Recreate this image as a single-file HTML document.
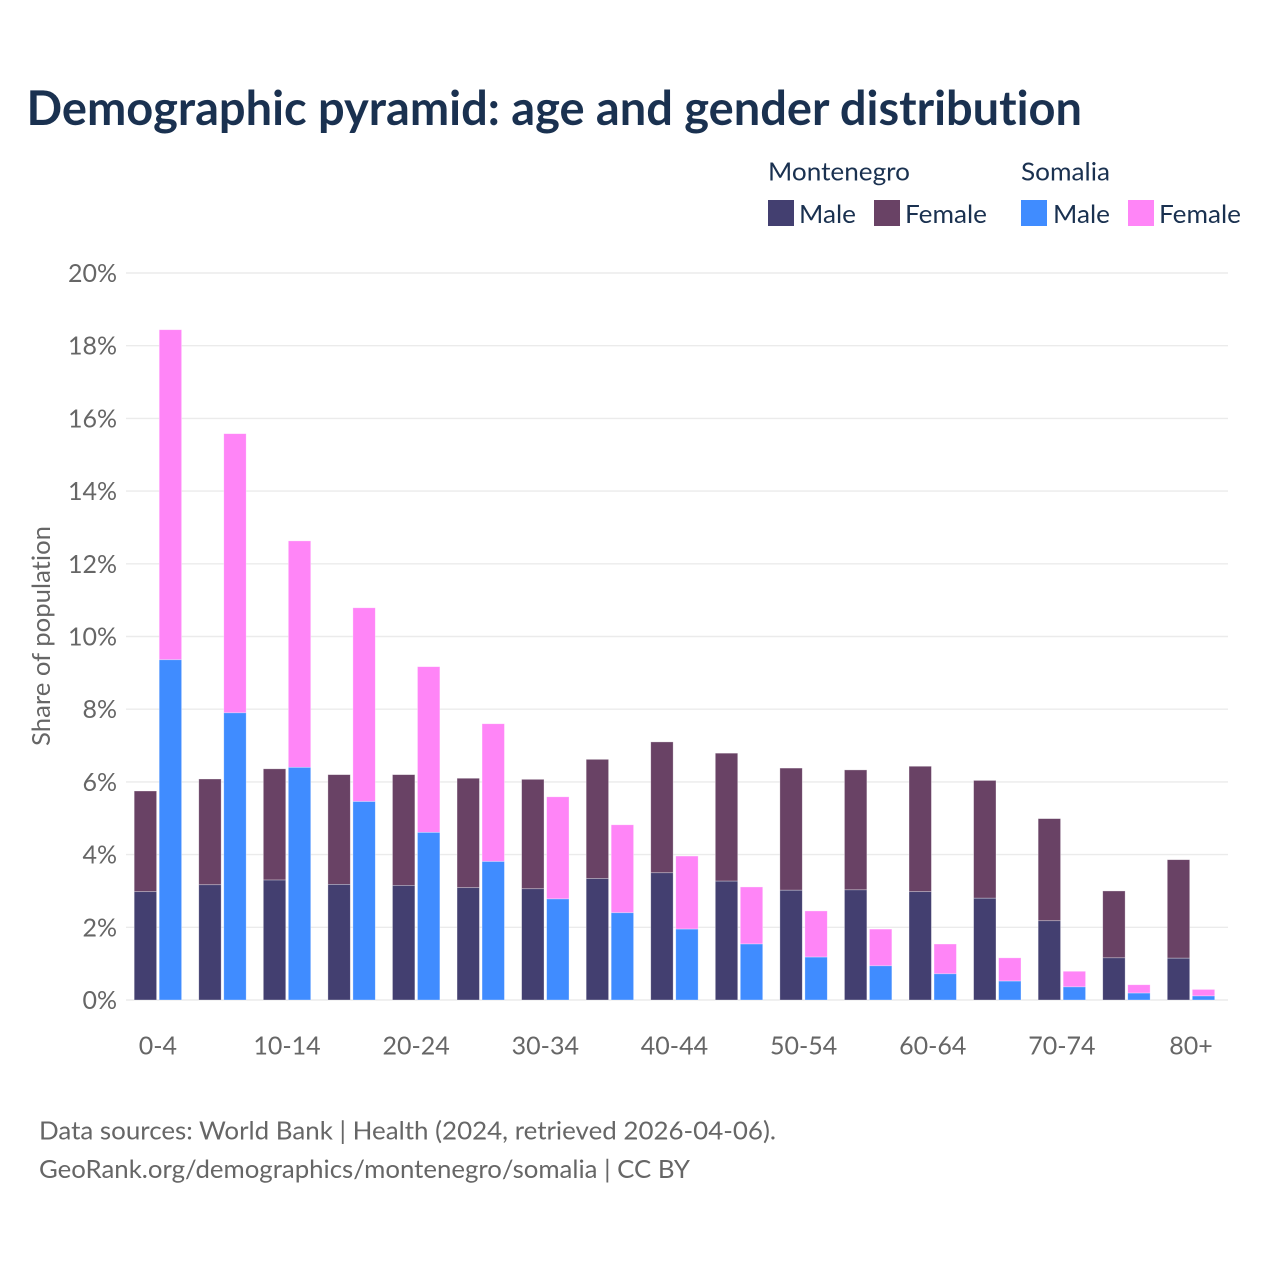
<!DOCTYPE html>
<html lang="en">
<head>
<meta charset="utf-8">
<title>Demographic pyramid: age and gender distribution</title>
<style>
html,body{margin:0;padding:0;background:#fff;width:1280px;height:1280px;overflow:hidden}
svg{display:block}
text{font-family:"Lato","Carlito","Liberation Sans",sans-serif;font-variant-ligatures:none}
</style>
</head>
<body>
<svg id="chart" xmlns="http://www.w3.org/2000/svg" width="1280" height="1280" viewBox="0 0 1280 1280">
  <rect x="0" y="0" width="1280" height="1280" fill="#fff"/>
  <text x="26.5" y="125" font-size="47.5" font-weight="700" fill="#1a3150" textLength="1055.5" lengthAdjust="spacingAndGlyphs">Demographic pyramid: age and gender distribution</text>

  <g font-size="25.5" fill="#1a3150">
    <text x="768" y="180.5" textLength="142" lengthAdjust="spacingAndGlyphs">Montenegro</text>
    <text x="1021" y="180.5" textLength="89" lengthAdjust="spacingAndGlyphs">Somalia</text>
    <rect x="768" y="200" width="26" height="26" fill="#433f70"/>
    <text x="799" y="223" textLength="57" lengthAdjust="spacingAndGlyphs">Male</text>
    <rect x="874" y="200" width="26" height="26" fill="#694265"/>
    <text x="905" y="223" textLength="82" lengthAdjust="spacingAndGlyphs">Female</text>
    <rect x="1021" y="200" width="26" height="26" fill="#408cff"/>
    <text x="1053" y="223" textLength="57" lengthAdjust="spacingAndGlyphs">Male</text>
    <rect x="1128" y="200" width="26" height="26" fill="#ff85f7"/>
    <text x="1159" y="223" textLength="82" lengthAdjust="spacingAndGlyphs">Female</text>
  </g>

  <g id="grid"></g>
  <g id="y-ticks"></g>
  <g id="bars"></g>
  <g id="x-ticks"></g>

  <text transform="translate(50 746) rotate(-90)" x="0" y="0" font-size="25" fill="#666" textLength="220" lengthAdjust="spacingAndGlyphs">Share of population</text>

  <text x="39" y="1139.5" font-size="25.5" fill="#666" textLength="737" lengthAdjust="spacingAndGlyphs">Data sources: World Bank | Health (2024, retrieved 2026-04-06).</text>
  <text x="39" y="1178" font-size="25.5" fill="#666" textLength="651" lengthAdjust="spacingAndGlyphs">GeoRank.org/demographics/montenegro/somalia | CC BY</text>
</svg>
<script>
const categories = ["0-4","5-9","10-14","15-19","20-24","25-29","30-34","35-39","40-44","45-49","50-54","55-59","60-64","65-69","70-74","75-79","80+"];
const montenegroMale = [2.98,3.17,3.3,3.18,3.15,3.09,3.06,3.34,3.5,3.27,3.02,3.03,2.98,2.8,2.18,1.16,1.15];
const montenegroFemale = [2.77,2.91,3.06,3.02,3.05,3.01,3.01,3.28,3.6,3.52,3.36,3.3,3.45,3.24,2.81,1.84,2.71];
const somaliaMale = [9.36,7.9,6.4,5.46,4.61,3.81,2.78,2.4,1.95,1.54,1.18,0.94,0.72,0.52,0.36,0.19,0.11];
const somaliaFemale = [9.08,7.68,6.23,5.33,4.56,3.79,2.81,2.42,2.01,1.57,1.27,1.01,0.82,0.64,0.43,0.23,0.18];
const yTicks = [0,2,4,6,8,10,12,14,16,18,20];

const NS = "http://www.w3.org/2000/svg";
const plotBottom = 1000, plotTop = 273, yMax = 20;
const firstCenter = 157.9, lastCenter = 1191;
const barWidth = 22.4, barGap = 2.6;

function yScale(v) {
  return plotBottom - (v / yMax) * (plotBottom - plotTop);
}
function xCenter(i) {
  return firstCenter + i * (lastCenter - firstCenter) / (categories.length - 1);
}
function make(tag, attrs, parent) {
  const el = document.createElementNS(NS, tag);
  for (const k in attrs) el.setAttribute(k, attrs[k]);
  parent.appendChild(el);
  return el;
}

const gridG = document.getElementById("grid");
const yG = document.getElementById("y-ticks");
yTicks.forEach(function (t) {
  const line = make("line", {x1: 126, x2: 1228, y1: yScale(t), y2: yScale(t), stroke: "#ebebeb", "stroke-width": 1.4}, gridG);
  
  
  const label = make("text", {x: 117, y: yScale(t) + 9, "text-anchor": "end", "font-size": 25, fill: "#666"}, yG);
  
  
  label.textContent = t + "%";
});

const barsG = document.getElementById("bars");
function drawStack(i, left, male, female, maleColor, femaleColor, country) {
  const yMale = yScale(male);
  const yTotal = yScale(male + female);
  const femaleBar = make("rect", {x: left, y: yTotal, width: barWidth, height: yMale - yTotal, fill: femaleColor, stroke: "#fff", "stroke-opacity": 0.45, "stroke-width": 0.7}, barsG);
  
  
  femaleBar.setAttribute('data-series', country + "-female-" + categories[i]);
  const maleBar = make("rect", {x: left, y: yMale, width: barWidth, height: plotBottom - yMale, fill: maleColor, stroke: "#fff", "stroke-opacity": 0.45, "stroke-width": 0.7}, barsG);
  
  
  maleBar.setAttribute('data-series', country + "-male-" + categories[i]);
}
categories.forEach(function (c, i) {
  const cx = xCenter(i);
  drawStack(i, cx - barGap / 2 - barWidth, montenegroMale[i], montenegroFemale[i], "#433f70", "#694265", "montenegro");
  drawStack(i, cx + barGap / 2, somaliaMale[i], somaliaFemale[i], "#408cff", "#ff85f7", "somalia");
});

const xG = document.getElementById("x-ticks");
categories.forEach(function (c, i) {
  if (i % 2 !== 0) return;
  const label = make("text", {x: xCenter(i), y: 1054.5, "text-anchor": "middle", "font-size": 25, fill: "#666"}, xG);
  
  
  label.textContent = c;
});
</script>
</body>
</html>
